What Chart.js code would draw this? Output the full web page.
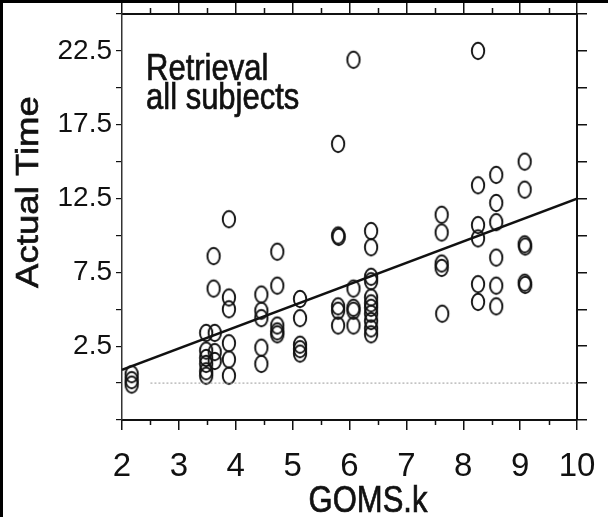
<!DOCTYPE html>
<html>
<head>
<meta charset="utf-8">
<script src="https://cdn.jsdelivr.net/npm/chart.js@4.4.1/dist/chart.umd.min.js"></script>
<style>
  html, body { margin: 0; padding: 0; background: #fff; }
  canvas { display: block; }
</style>
</head>
<body>
<canvas id="chart" width="608" height="517"></canvas>
<script>
// data (GOMS.k vs actual time)
const gomsK = [
  2.17, 2.17, 2.17,
  3.48, 3.48, 3.48, 3.48, 3.48, 3.48,
  3.63, 3.63, 3.63, 3.61, 3.61,
  3.88, 3.88, 3.88, 3.88, 3.88, 3.88,
  4.45, 4.45, 4.45, 4.45, 4.45,
  4.73, 4.73, 4.73, 4.73, 4.73,
  5.13, 5.13, 5.13, 5.13, 5.13,
  5.80, 5.80, 5.81, 5.80, 5.80, 5.80,
  6.07, 6.07, 6.07, 6.07, 6.07,
  6.38, 6.38, 6.38, 6.38, 6.38, 6.38, 6.38, 6.38, 6.38, 6.38, 6.38,
  7.62, 7.62, 7.62, 7.62, 7.63,
  8.26, 8.26, 8.26, 8.26, 8.26, 8.26,
  8.58, 8.58, 8.58, 8.58, 8.58, 8.58,
  9.08, 9.08, 9.08, 9.09, 9.08, 9.09
];
const actualTime = [
  0.6, 0.2, -0.1,
  3.4, 2.2, 1.7, 1.3, 0.8, 0.5,
  3.4, 2.1, 1.5, 6.4, 8.6,
  11.1, 5.8, 5.0, 2.7, 1.6, 0.5,
  6.0, 4.9, 4.4, 2.4, 1.3,
  8.9, 6.6, 3.9, 3.5, 3.3,
  5.7, 4.4, 2.6, 2.3, 2.0,
  16.2, 10.0, 9.9, 5.2, 4.9, 3.9,
  21.9, 6.4, 5.1, 4.9, 3.9,
  10.3, 9.2, 7.2, 6.9, 5.8, 5.4, 5.1, 4.7, 4.2, 3.7, 3.3,
  11.4, 10.2, 8.1, 7.8, 4.7,
  22.5, 13.4, 10.7, 9.8, 6.7, 5.5,
  14.1, 12.2, 10.9, 8.5, 6.6, 5.2,
  15.0, 13.1, 9.4, 9.25, 6.8, 6.65
];

// regression line and the faint zero line
const fitX = [2, 10];
const fitY = [0.9, 12.5];
const zeroX = [2.5, 10];
const zeroY = [0, 0];

const yTickLabels = [2.5, 7.5, 12.5, 17.5, 22.5];
const noteLines = ["Retrieval", "all subjects"];
const xTitle = "GOMS.k";
const yTitle = "Actual Time";

const FONT = "'Liberation Sans', Arial, Helvetica, sans-serif";
const INK = "#111";
const STRETCH = 1.18; // the scan is a little taller than it is wide

// hollow upright ellipse, like the typed "O" markers
const mark = document.createElement("canvas");
mark.width = 18;
mark.height = 22;
const mctx = mark.getContext("2d");
mctx.strokeStyle = INK;
mctx.lineWidth = 1.9;
mctx.beginPath();
mctx.ellipse(9, 11, 6.2, 8.2, 0, 0, Math.PI * 2);
mctx.stroke();

const pts = gomsK.map((x, i) => ({ x: x, y: actualTime[i] }));
const fitPts = fitX.map((x, i) => ({ x: x, y: fitY[i] }));
const zeroPts = zeroX.map((x, i) => ({ x: x, y: zeroY[i] }));

function tallText(ctx, text, x, y, rot) {
  ctx.save();
  ctx.translate(x, y);
  if (rot) {
    ctx.rotate(rot);
    ctx.scale(STRETCH, 1);
  } else {
    ctx.scale(1, STRETCH);
  }
  ctx.fillText(text, 0, 0);
  ctx.strokeText(text, 0, 0); // a touch heavier, like the print
  ctx.restore();
}

const extras = {
  id: "extras",
  afterDraw(chart) {
    const ctx = chart.ctx;
    const xs = chart.scales.x;
    const area = chart.chartArea;
    ctx.save();
    ctx.strokeStyle = INK;
    ctx.lineWidth = 1.5;
    // half-unit ticks top and bottom
    ctx.beginPath();
    for (let v = 2.5; v < 10; v += 1) {
      const px = Math.round(xs.getPixelForValue(v)) + 0.5;
      ctx.moveTo(px, area.bottom);
      ctx.lineTo(px, area.bottom + 5);
      ctx.moveTo(px, area.top);
      ctx.lineTo(px, area.top - 6);
    }
    ctx.stroke();

    // scan frame on left and top edges
    ctx.fillStyle = "#000";
    ctx.fillRect(0, 0, 3, chart.height);
    ctx.fillRect(0, 0, chart.width, 3);

    ctx.fillStyle = INK;
    ctx.lineWidth = 0.6;
    ctx.textBaseline = "alphabetic";

    // text in the panel
    ctx.font = "31px " + FONT;
    ctx.textAlign = "left";
    tallText(ctx, noteLines[0], 146, 80);
    tallText(ctx, noteLines[1], 146, 109);

    // x title, sits right of the axis middle in the scan
    ctx.textAlign = "center";
    tallText(ctx, xTitle, 368, 512);

    // y title, a bit above the middle of the axis
    tallText(ctx, yTitle, 38, 192, -Math.PI / 2);
    ctx.restore();
  }
};

new Chart(document.getElementById("chart"), {
  type: "scatter",
  data: {
    datasets: [
      {
        data: zeroPts,
        showLine: true,
        borderColor: "#9a9a9a",
        borderWidth: 1,
        borderDash: [2, 2],
        pointRadius: 0
      },
      {
        data: fitPts,
        showLine: true,
        borderColor: INK,
        borderWidth: 2.5,
        pointRadius: 0
      },
      {
        data: pts,
        pointStyle: mark,
        pointRadius: 8
      }
    ]
  },
  options: {
    responsive: false,
    animation: false,
    devicePixelRatio: 1,
    layout: { padding: 0 },
    plugins: { legend: { display: false }, tooltip: { enabled: false } },
    scales: {
      x: {
        type: "linear",
        position: "bottom",
        min: 2,
        max: 10,
        ticks: {
          stepSize: 1,
          color: INK,
          padding: 17,
          font: { family: FONT, size: 33 }
        },
        grid: { drawOnChartArea: false, color: INK, lineWidth: 1.5, tickLength: 10 },
        border: { display: true, color: INK, width: 2 },
        afterFit(s) { s.height = 97; s.paddingLeft = 0; s.paddingRight = 0; }
      },
      x2: {
        type: "linear",
        position: "top",
        min: 2,
        max: 10,
        ticks: { stepSize: 1, display: false },
        grid: { drawOnChartArea: false, color: INK, lineWidth: 1.5, tickLength: 11 },
        border: { display: true, color: INK, width: 2 },
        afterFit(s) { s.height = 14; s.paddingLeft = 0; s.paddingRight = 0; }
      },
      y: {
        type: "linear",
        position: "left",
        min: -2.5,
        max: 25,
        ticks: {
          stepSize: 2.5,
          color: INK,
          padding: 4,
          font: { family: FONT, size: 28 },
          callback: (v) => (yTickLabels.includes(v) ? String(v) : "")
        },
        grid: { drawOnChartArea: false, color: INK, lineWidth: 1.2, tickLength: 6 },
        border: { display: true, color: "#333", width: 1.5 },
        afterFit(s) { s.width = 122; s.paddingTop = 0; s.paddingBottom = 0; }
      },
      y2: {
        type: "linear",
        position: "right",
        min: -2.5,
        max: 25,
        ticks: { stepSize: 2.5, display: false },
        grid: { drawOnChartArea: false, color: INK, lineWidth: 1.5, tickLength: 10 },
        border: { display: true, color: INK, width: 2 },
        afterFit(s) { s.width = 31; s.paddingTop = 0; s.paddingBottom = 0; }
      }
    }
  },
  plugins: [extras]
});
</script>
</body>
</html>
